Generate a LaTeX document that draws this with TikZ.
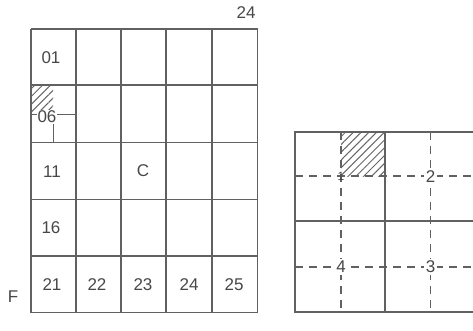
\documentclass[tikz,border=0pt]{standalone}
\usepackage{fontspec}
\setmainfont{Liberation Sans}
\usetikzlibrary{patterns.meta}
\begin{document}
\begin{tikzpicture}[x=1pt,y=-1pt,
  gridline/.style={draw=black!62,line width=1.5pt},
  thinline/.style={draw=black!62,line width=1pt},
  dashline/.style={draw=black!62,line width=1.3pt,dash pattern=on 8pt off 6pt},
  lbl/.style={font=\fontsize{17}{17}\selectfont,text=black!72,inner sep=1pt},
  dlbl/.style={lbl,fill=white,inner sep=2pt},
  hatch/.style={pattern={Lines[angle=45,distance=5.5pt,line width=1pt]},pattern color=black!60}]
\useasboundingbox (0,0) rectangle (473,330);
% ---------- left grid ----------
\fill[hatch] (31,85) rectangle (53,112);
\draw[thinline] (31,114) -- (76,114);
\draw[thinline] (53.5,114) -- (53.5,142);
\node[lbl,fill=white,inner sep=1pt] (c06) at (47,117) {06};
\foreach \xx in {31,76,121,166,212,257.5} \draw[gridline] (\xx,29) -- (\xx,312.5);
\foreach \yy in {29,85,142.5,199.5,256,312.5} \draw[gridline] (31,\yy) -- (257.5,\yy);
\node[lbl] (c01) at (51,58) {01};
\node[lbl] (c11) at (52,172) {11};
\node[lbl] (c16) at (51,228) {16};
\node[lbl] (c21) at (52,285) {21};
\node[lbl] (c22) at (97,285) {22};
\node[lbl] (c23) at (143,285) {23};
\node[lbl] (c24) at (189,285) {24};
\node[lbl] (c25) at (234,285) {25};
\node[lbl] (cC) at (143,171) {C};
\node[lbl] (t24) at (246,13) {24};
\node[lbl] (tF) at (13,297) {F};
% ---------- right grid ----------
\fill[hatch] (341,132) rectangle (385,176);
\draw[dashline] (341,132) -- (341,312);
\draw[dashline] (430.5,132) -- (430.5,312);
\draw[dashline] (295,176) -- (476,176);
\draw[dashline] (295,267) -- (476,267);
\draw[gridline] (295,132) rectangle (476,312);
\draw[gridline] (385,132) -- (385,312);
\draw[gridline] (295,221) -- (476,221);
\node[lbl,inner sep=0.5pt] (q1) at (341,176) {\fontsize{12}{12}\selectfont 1};
\node[dlbl] (q2) at (430.5,177) {2};
\node[dlbl] (q3) at (430.5,267) {3};
\node[dlbl] (q4) at (341,267) {4};
\end{tikzpicture}
\end{document}
